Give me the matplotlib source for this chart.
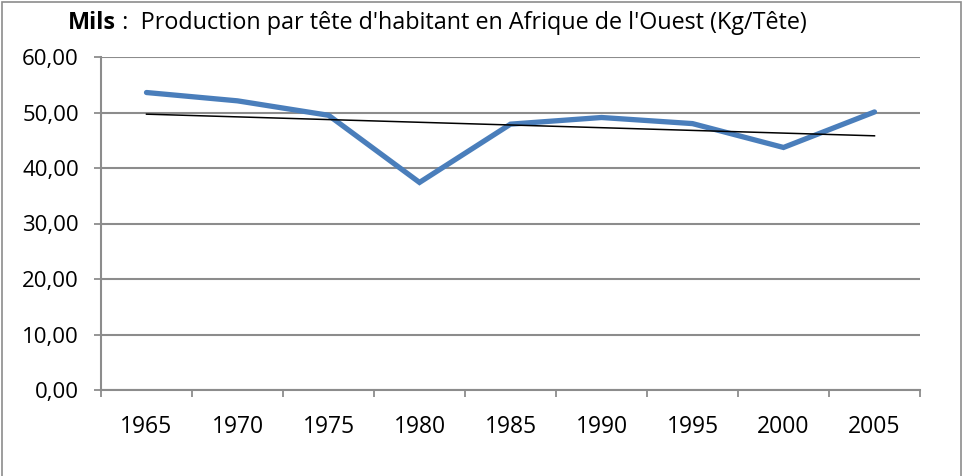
import matplotlib
matplotlib.use("Agg")
import matplotlib.pyplot as plt
from matplotlib.patches import Rectangle
import numpy as np

years = ["1965", "1970", "1975", "1980", "1985", "1990", "1995", "2000", "2005"]
production = [53.6, 52.1, 49.5, 37.4, 47.9, 49.1, 48.0, 43.7, 50.1]
# linear trend line as drawn in the source (first and last category)
trend = [49.7, 45.8]

LINE_COLOR = "#4A7EBB"
GRID_COLOR = "#8C8C8C"
FONT = ["Open Sans", "DejaVu Sans"]

plt.rcParams["font.family"] = FONT

fig = plt.figure(figsize=(9.63, 4.76), dpi=100)
ax = fig.add_axes([101 / 963, 1 - 390 / 476, 819 / 963, 333 / 476])

x = np.arange(len(years))
ax.plot(x, production, color=LINE_COLOR, linewidth=3.8, solid_joinstyle="miter",
        solid_capstyle="round", zorder=3)
ax.plot([x[0], x[-1]], trend, color="black", linewidth=1.1, zorder=4)

ax.set_xlim(-0.5, len(years) - 0.5)
ax.set_ylim(0, 60)
ax.set_yticks(np.arange(0, 61, 10))
ax.set_yticklabels([f"{v:.2f}".replace(".", ",") for v in np.arange(0, 61, 10)])
ax.set_xticks(x)
ax.set_xticklabels(years)
ax.set_xticks(np.arange(-0.5, len(years)), minor=True)

ax.tick_params(axis="x", which="major", length=0, pad=18, labelsize=16.5)
ax.tick_params(axis="x", which="minor", length=5, width=1.3, color=GRID_COLOR, direction="out")
ax.tick_params(axis="y", length=5, width=1.3, color=GRID_COLOR, pad=11, labelsize=16)

ax.grid(True, axis="y", color=GRID_COLOR, linewidth=1.5)
ax.set_axisbelow(True)
for side in ("top", "right"):
    ax.spines[side].set_visible(False)
for side in ("left", "bottom"):
    ax.spines[side].set_color(GRID_COLOR)
    ax.spines[side].set_linewidth(1.5)

t1 = fig.text(68 / 963, 1 - 23 / 476, "Mils", fontsize=16.8, fontweight="bold",
              va="center", ha="left")
ax.annotate(" :  Production par tête d'habitant en Afrique de l'Ouest (Kg/Tête)",
            xy=(1, 0), xycoords=t1, va="bottom", ha="left", fontsize=16.8)

fig.patches.append(Rectangle((2 / 963, -0.05), 959 / 963, 1.05 - 1.5 / 476,
                             transform=fig.transFigure, fill=False,
                             edgecolor="#8C8C8C", linewidth=1.2))

fig.savefig("out.png", dpi=100)
